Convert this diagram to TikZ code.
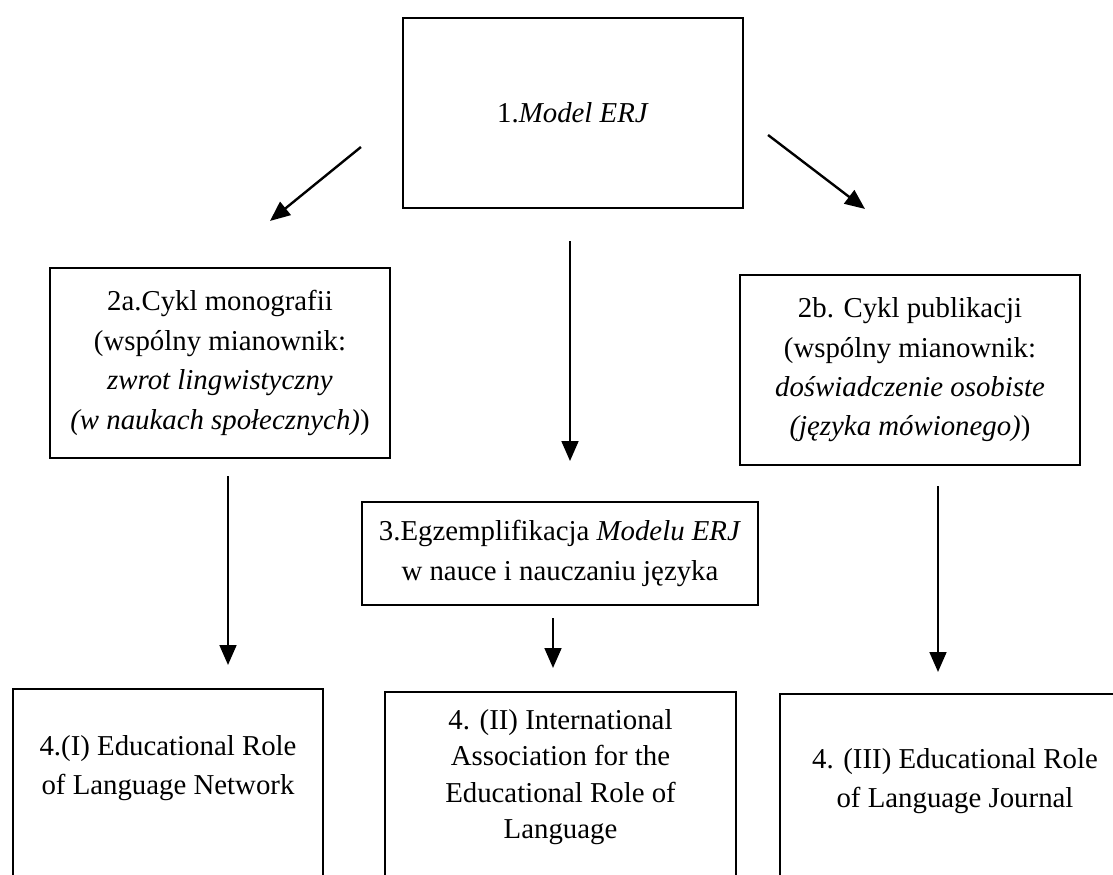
\documentclass[tikz,border=0pt]{standalone}
\usepackage{fontspec}
\setmainfont{Liberation Serif}
\usepackage{tikz}
\usetikzlibrary{arrows.meta}

\tikzset{
	box/.style={draw, line width=1.5pt, inner sep=0pt, align=center},
	arr/.style={line width=1.7pt, -{Triangle[length=0.5cm,width=0.42cm]}}
}

\begin{document}
\begin{tikzpicture}[font=\fontsize{20.5}{28}\selectfont]
				\useasboundingbox (0,0) rectangle (27.825,-21.85);
				\clip (0,0) rectangle (27.825,-21.85);
				\node[box, minimum width=8.5cm, minimum height=4.75cm] (model) at (14.325,-2.825) {1.\textit{Model ERJ}};
				\node[box, minimum width=8.5cm, minimum height=4.75cm] (mono) at (5.5,-9.075) {2a.Cykl monografii\\(wspólny mianownik:\\\textit{zwrot lingwistyczny}\\\textit{(w naukach społecznych)})};
				\node[box, minimum width=8.5cm, minimum height=4.75cm] (publ) at (22.75,-9.25) {2b. Cykl publikacji\\(wspólny mianownik:\\\textit{doświadczenie osobiste}\\\textit{(języka mówionego)})};
				\node[box, minimum width=9.9cm, minimum height=2.575cm] (egz) at (14.0,-13.84) {3.Egzemplifikacja \textit{Modelu ERJ}\\w nauce i nauczaniu języka};
				\node[box, anchor=north, minimum width=7.75cm, minimum height=5.3cm] (net) at (4.2,-17.2) {};
				\node[box, anchor=north, minimum width=8.775cm, minimum height=5.3cm] (assoc) at (14.0125,-17.275) {};
				\node[box, anchor=north, minimum width=8.75cm, minimum height=5.3cm] (journ) at (23.875,-17.325) {};
				\node[align=center] (nett) at ([yshift=-2.0cm]net.north) {4.(I) Educational Role\\of Language Network};
				\node[align=center, font=\fontsize{20.5}{26}\selectfont] (assoct) at ([yshift=-2.15cm]assoc.north) {4. (II) International\\Association for the\\Educational Role of\\Language};
				\node[align=center] (journt) at ([yshift=-2.2cm]journ.north) {4. (III) Educational Role\\of Language Journal};
				\draw[arr] ([shift={(-1.025,-0.85)}]model.west) -- ([shift={(1.25,1.15)}]mono.north);
				\draw[arr] ([shift={(0.6,-0.55)}]model.east) -- ([shift={(-1.125,1.625)}]publ.north);
				\draw[arr, shorten <=0.8cm, shorten >=1.0cm] (model.south -| 14.25,0) -- (egz.north -| 14.25,0);
				\draw[arr, shorten <=0.425cm, shorten >=0.575cm] (mono.south -| 5.7,0) -- (net.north -| 5.7,0);
				\draw[arr, shorten <=0.5cm, shorten >=0.525cm] (publ.south -| 23.45,0) -- (journ.north -| 23.45,0);
				\draw[arr, shorten <=0.3cm, shorten >=0.575cm] (egz.south -| 13.825,0) -- (assoc.north -| 13.825,0);
			\end{tikzpicture}
\end{document}
